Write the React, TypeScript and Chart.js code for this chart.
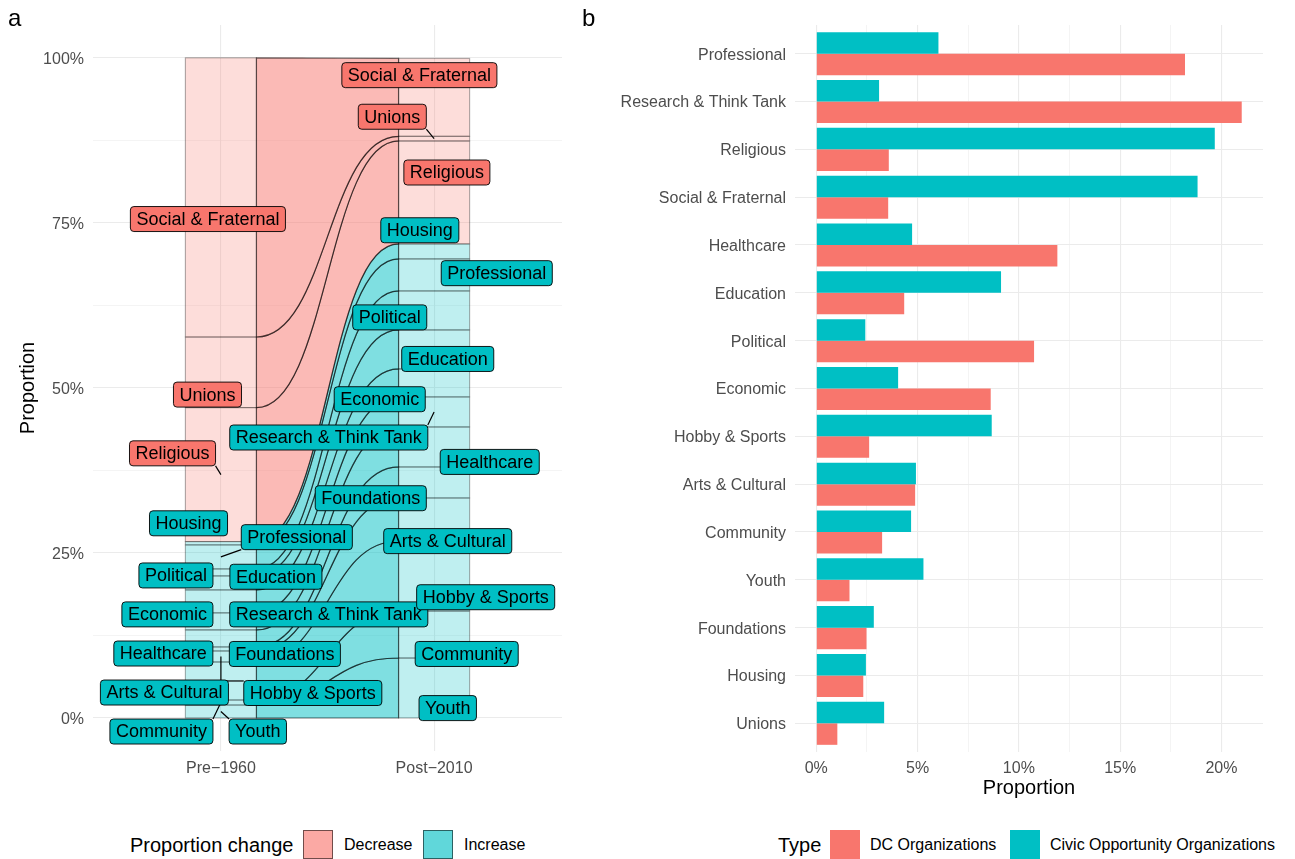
import React, { useEffect, useRef } from "react";
import { Chart, registerables } from "chart.js";

Chart.register(...registerables);

const FONT = "'Liberation Sans', Arial, Helvetica, sans-serif";
const RED = "#F8766D";
const TEAL = "#00BFC4";

// ---------- Panel a: alluvial (stack order bottom -> top) ----------
const orgTypes = [
  "Youth", "Community", "Hobby & Sports", "Arts & Cultural", "Foundations",
  "Healthcare", "Research & Think Tank", "Economic", "Education", "Political",
  "Professional", "Housing", "Religious", "Unions", "Social & Fraternal",
];
const pre1960 = [0.0197, 0.0076, 0.0576, 0.0167, 0.0061, 0.0258, 0.0258, 0.0348, 0.0212, 0.0106, 0.0364, 0.005, 0.203, 0.107, 0.423];
const post2010 = [0.0909, 0.0712, 0.1061, 0.0652, 0.047, 0.0606, 0.0455, 0.0424, 0.0591, 0.0591, 0.0485, 0.0227, 0.156, 0.0071, 0.118];
const periods = ["Pre\u22121960", "Post\u22122010"];
const proportionTicks = [0, 0.25, 0.5, 0.75, 1];
const changeLevels = ["Decrease", "Increase"];

// label anchor positions (data units) after repelling, same order as orgTypes
const preLabelPos = [
  [1.173, -0.0205], [0.721, -0.0205], [1.431, 0.0379], [0.735, 0.0386], [1.3, 0.097],
  [0.73, 0.0977], [1.506, 0.157], [0.749, 0.157], [1.258, 0.214], [0.789, 0.216],
  [1.356, 0.274], [0.848, 0.295], [0.773, 0.401], [0.937, 0.49], [0.939, 0.756],
];
const postLabelPos = [
  [2.064, 0.015], [2.153, 0.097], [2.242, 0.183], [2.064, 0.268], [1.703, 0.333],
  [2.261, 0.388], [1.506, 0.425], [1.745, 0.483], [2.064, 0.544], [1.792, 0.607],
  [2.294, 0.674], [1.933, 0.739], [2.06, 0.8265], [1.804, 0.911], [1.931, 0.974],
];

// ---------- Panel b: grouped bars (top -> bottom) ----------
const barCategories = [
  "Professional", "Research & Think Tank", "Religious", "Social & Fraternal", "Healthcare",
  "Education", "Political", "Economic", "Hobby & Sports", "Arts & Cultural",
  "Community", "Youth", "Foundations", "Housing", "Unions",
];
const dcOrganizations = [18.2, 21.0, 3.58, 3.55, 11.9, 4.34, 10.75, 8.61, 2.61, 4.88, 3.25, 1.64, 2.48, 2.32, 1.04];
const civicOpportunity = [6.03, 3.1, 19.67, 18.82, 4.73, 9.12, 2.42, 4.04, 8.66, 4.92, 4.68, 5.29, 2.84, 2.45, 3.35];
const percentTicks = [0, 5, 10, 15, 20];
const seriesNames = ["DC Organizations", "Civic Opportunity Organizations"];

const STRATUM_WIDTH = 1 / 3;

function cumulative(vals: number[]) {
  const out = [0];
  vals.forEach((v) => out.push(out[out.length - 1] + v));
  return out;
}
function withMinor(major: number[]) {
  const out: number[] = [];
  major.forEach((v, i) => {
    out.push(v);
    if (i < major.length - 1) out.push((v + major[i + 1]) / 2);
  });
  return out;
}
function roundRect(ctx: CanvasRenderingContext2D, x: number, y: number, w: number, h: number, r: number) {
  ctx.beginPath();
  ctx.moveTo(x + r, y);
  ctx.lineTo(x + w - r, y);
  ctx.arcTo(x + w, y, x + w, y + r, r);
  ctx.lineTo(x + w, y + h - r);
  ctx.arcTo(x + w, y + h, x + w - r, y + h, r);
  ctx.lineTo(x + r, y + h);
  ctx.arcTo(x, y + h, x, y + h - r, r);
  ctx.lineTo(x, y + r);
  ctx.arcTo(x, y, x + r, y, r);
  ctx.closePath();
}

const alluvialPlugin = {
  id: "alluvial",
  afterDatasetsDraw(chart: any) {
    const ctx: CanvasRenderingContext2D = chart.ctx;
    const xs = chart.scales.x;
    const ys = chart.scales.y;
    const axes = [pre1960, post2010];
    const cums = axes.map(cumulative);
    const half = STRATUM_WIDTH / 2;
    const isDec = (i: number) => post2010[i] < pre1960[i];
    ctx.save();
    // strata
    axes.forEach((vals, a) => {
      const xc = a + 1;
      const x0 = xs.getPixelForValue(xc - half);
      const x1 = xs.getPixelForValue(xc + half);
      vals.forEach((_, i) => {
        const yb = ys.getPixelForValue(cums[a][i]);
        const yt = ys.getPixelForValue(cums[a][i + 1]);
        ctx.fillStyle = isDec(i) ? "rgba(248,118,109,0.25)" : "rgba(0,191,196,0.25)";
        ctx.fillRect(x0, yt, x1 - x0, yb - yt);
        ctx.strokeStyle = "rgba(0,0,0,0.32)";
        ctx.lineWidth = 1.1;
        ctx.strokeRect(x0, yt, x1 - x0, yb - yt);
      });
    });
    // flows
    const xa = xs.getPixelForValue(1 + half);
    const xb = xs.getPixelForValue(2 - half);
    const xm = (xa + xb) / 2;
    orgTypes.forEach((_, i) => {
      const y1t = ys.getPixelForValue(cums[0][i + 1]);
      const y1b = ys.getPixelForValue(cums[0][i]);
      const y2t = ys.getPixelForValue(cums[1][i + 1]);
      const y2b = ys.getPixelForValue(cums[1][i]);
      ctx.beginPath();
      ctx.moveTo(xa, y1t);
      ctx.bezierCurveTo(xm, y1t, xm, y2t, xb, y2t);
      ctx.lineTo(xb, y2b);
      ctx.bezierCurveTo(xm, y2b, xm, y1b, xa, y1b);
      ctx.closePath();
      ctx.fillStyle = isDec(i) ? "rgba(248,118,109,0.5)" : "rgba(0,191,196,0.5)";
      ctx.fill();
      ctx.strokeStyle = "rgba(0,0,0,0.55)";
      ctx.lineWidth = 1.2;
      ctx.stroke();
    });
    // labels
    ctx.font = `18px ${FONT}`;
    const boxes: any[] = [];
    [preLabelPos, postLabelPos].forEach((pos, a) => {
      orgTypes.forEach((name, i) => {
        const px = xs.getPixelForValue(a + 1);
        const py = ys.getPixelForValue((cums[a][i] + cums[a][i + 1]) / 2);
        const lx = xs.getPixelForValue(pos[i][0]);
        const ly = ys.getPixelForValue(pos[i][1]);
        const w = ctx.measureText(name).width + 12;
        const h = 25;
        boxes.push({ name, px, py, x: lx - w / 2, y: ly - h / 2, w, h, dec: isDec(i) });
      });
    });
    ctx.strokeStyle = "#000";
    ctx.lineWidth = 1.2;
    boxes.forEach((b) => {
      const cx = Math.min(Math.max(b.px, b.x), b.x + b.w);
      const cy = Math.min(Math.max(b.py, b.y), b.y + b.h);
      const d = Math.hypot(b.px - cx, b.py - cy);
      if (d > 10) {
        ctx.beginPath();
        ctx.moveTo(cx, cy);
        ctx.lineTo(b.px, b.py);
        ctx.stroke();
      }
    });
    boxes.forEach((b) => {
      roundRect(ctx, b.x, b.y, b.w, b.h, 3.5);
      ctx.fillStyle = b.dec ? RED : TEAL;
      ctx.fill();
      ctx.strokeStyle = "#000";
      ctx.lineWidth = 0.9;
      ctx.stroke();
      ctx.fillStyle = "#000";
      ctx.textAlign = "center";
      ctx.textBaseline = "middle";
      ctx.fillText(b.name, b.x + b.w / 2, b.y + b.h / 2 + 1);
    });
    ctx.restore();
  },
};

const GRID = "#EBEBEB";
const TICK_COLOR = "#4D4D4D";

export default function App() {
  const aRef = useRef<HTMLCanvasElement>(null);
  const bRef = useRef<HTMLCanvasElement>(null);

  useEffect(() => {
    const yMinorA = withMinor(proportionTicks);
    const chartA = new Chart(aRef.current as HTMLCanvasElement, {
      type: "scatter",
      data: { datasets: [] },
      options: {
        responsive: false,
        animation: false,
        events: [],
        layout: { padding: { top: 25, right: 18, bottom: 0, left: 0 } },
        plugins: { legend: { display: false }, tooltip: { enabled: false } },
        scales: {
          x: {
            type: "linear",
            min: 0.4,
            max: 2.6,
            afterBuildTicks: (s: any) => {
              s.ticks = periods.map((_, i) => ({ value: i + 1 }));
            },
            afterFit: (s: any) => {
              s.height = 49;
            },
            ticks: {
              callback: (v: any) => periods[Math.round(v) - 1] ?? "",
              color: TICK_COLOR,
              font: { family: FONT, size: 16 },
              padding: 8,
              autoSkip: false,
              maxRotation: 0,
            },
            grid: { color: GRID, lineWidth: 1.1, drawTicks: false },
            border: { display: false },
          },
          y: {
            type: "linear",
            min: -0.05,
            max: 1.05,
            afterBuildTicks: (s: any) => {
              s.ticks = yMinorA.map((v) => ({ value: v }));
            },
            afterFit: (s: any) => {
              s.width = 93;
            },
            ticks: {
              callback: (v: any) => (proportionTicks.includes(v) ? `${Math.round(v * 100)}%` : ""),
              color: TICK_COLOR,
              font: { family: FONT, size: 16 },
              padding: 9,
              labelOffset: 1.5,
              autoSkip: false,
            },
            grid: {
              color: GRID,
              lineWidth: (c: any) => (proportionTicks.includes(c.tick?.value) ? 1.1 : 0.55),
              drawTicks: false,
            },
            border: { display: false },
            title: {
              display: true,
              text: "Proportion",
              color: "#000",
              font: { family: FONT, size: 20 },
              padding: { top: 16, bottom: 0 },
            },
          },
        },
      } as any,
      plugins: [alluvialPlugin],
    });

    const xMinorB = withMinor(percentTicks);
    const chartB = new Chart(bRef.current as HTMLCanvasElement, {
      type: "bar",
      data: {
        datasets: [
          {
            label: seriesNames[1],
            data: civicOpportunity.map((v, i) => ({ x: v, y: i + 1 })),
            backgroundColor: TEAL,
            borderWidth: 0,
          },
          {
            label: seriesNames[0],
            data: dcOrganizations.map((v, i) => ({ x: v, y: i + 1 })),
            backgroundColor: RED,
            borderWidth: 0,
          },
        ],
      },
      options: {
        indexAxis: "y",
        responsive: false,
        animation: false,
        events: [],
        layout: { padding: { top: 25, right: 32, bottom: 0, left: 0 } },
        plugins: { legend: { display: false }, tooltip: { enabled: false } },
        datasets: { bar: { barPercentage: 1, categoryPercentage: 0.9 } },
        scales: {
          x: {
            type: "linear",
            min: -1.05,
            max: 22.05,
            afterBuildTicks: (s: any) => {
              s.ticks = xMinorB.map((v) => ({ value: v }));
            },
            afterFit: (s: any) => {
              s.height = 48;
            },
            ticks: {
              callback: (v: any) => (percentTicks.includes(v) ? `${v}%` : ""),
              color: TICK_COLOR,
              font: { family: FONT, size: 16 },
              padding: 7,
              autoSkip: false,
              maxRotation: 0,
            },
            grid: {
              color: GRID,
              lineWidth: (c: any) => (percentTicks.includes(c.tick?.value) ? 1.1 : 0.55),
              drawTicks: false,
            },
            border: { display: false },
            title: {
              display: true,
              text: "Proportion",
              color: "#000",
              font: { family: FONT, size: 20 },
              padding: { top: 0, bottom: 0 },
            },
          },
          y: {
            type: "linear",
            reverse: true,
            offset: false,
            min: 0.4,
            max: barCategories.length + 0.6,
            afterBuildTicks: (s: any) => {
              s.ticks = barCategories.map((_, i) => ({ value: i + 1 }));
            },
            afterFit: (s: any) => {
              s.width = 215;
            },
            ticks: {
              callback: (v: any) => barCategories[Math.round(v) - 1] ?? "",
              color: TICK_COLOR,
              font: { family: FONT, size: 16 },
              padding: 9,
              labelOffset: 1.5,
              autoSkip: false,
            },
            grid: { color: GRID, lineWidth: 1.1, drawTicks: false, offset: false },
            border: { display: false },
          },
        },
      } as any,
    });

    return () => {
      chartA.destroy();
      chartB.destroy();
    };
  }, []);

  const text = (left: number, top: number, size: number, content: string, color = "#000") => (
    <div
      style={{
        position: "absolute",
        left,
        top,
        fontSize: size,
        lineHeight: `${Math.round(size * 1.2)}px`,
        color,
        whiteSpace: "nowrap",
        fontFamily: FONT,
      }}
    >
      {content}
    </div>
  );
  const swatch = (left: number, color: string, border: string) => (
    <div
      style={{
        position: "absolute",
        left,
        top: 830,
        width: 30,
        height: 29,
        background: color,
        border,
        boxSizing: "border-box",
      }}
    />
  );

  return (
    <div
      style={{
        position: "absolute",
        left: 0,
        top: 0,
        width: 1295,
        height: 859,
        overflow: "hidden",
        background: "#fff",
        fontFamily: FONT,
      }}
    >
      <canvas ref={aRef} width={580} height={800} style={{ position: "absolute", left: 0, top: 0, width: 580, height: 800 }} />
      <canvas ref={bRef} width={715} height={800} style={{ position: "absolute", left: 580, top: 0, width: 715, height: 800 }} />

      {text(8, 3, 24, "a")}
      {text(582, 3, 24, "b")}

      {text(130, 833, 20, "Proportion change")}
      {swatch(303, "#FBA9A4", "1px solid rgba(0,0,0,0.55)")}
      {text(344, 835, 16, changeLevels[0])}
      {swatch(423, "#60D7DA", "1px solid rgba(0,0,0,0.55)")}
      {text(464, 835, 16, changeLevels[1])}

      {text(778, 833, 20, "Type")}
      {swatch(830, RED, "none")}
      {text(870, 835, 16, seriesNames[0])}
      {swatch(1010, TEAL, "none")}
      {text(1050, 835, 16, seriesNames[1])}
    </div>
  );
}
